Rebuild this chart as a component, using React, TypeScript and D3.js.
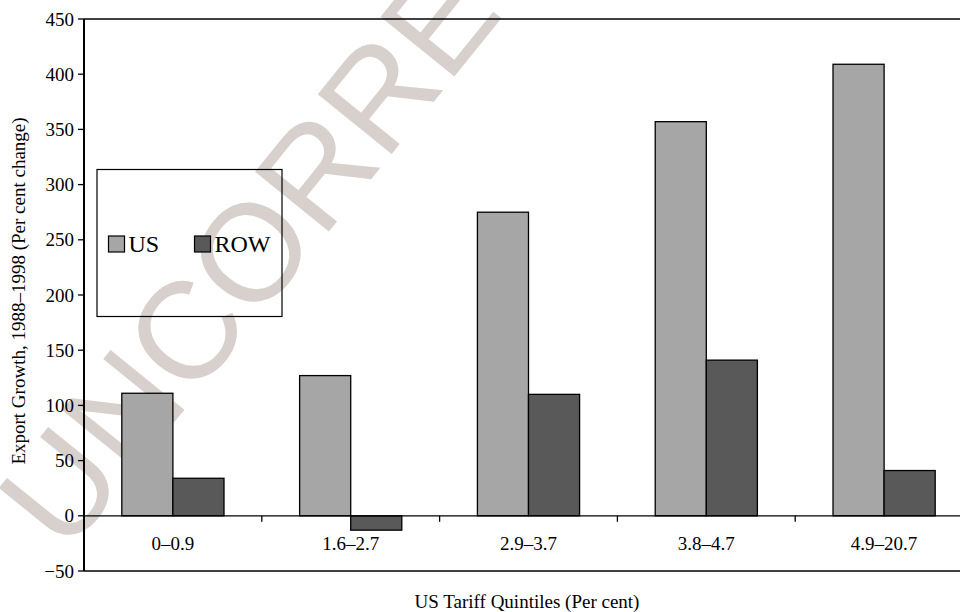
import React from "react";
import * as d3 from "d3";

const categories = ["0–0.9", "1.6–2.7", "2.9–3.7", "3.8–4.7", "4.9–20.7"];
const seriesNames = ["US", "ROW"];
const usValues = [111, 127, 275, 357, 409];
const rowValues = [34, -13, 110, 141, 41];
const yTicks = [-50, 0, 50, 100, 150, 200, 250, 300, 350, 400, 450];

const colors: Record<string, string> = { US: "#a6a6a6", ROW: "#595959" };
const FONT = "'Liberation Serif', 'Times New Roman', serif";

export default function App() {
  const width = 960;
  const height = 612;
  const left = 84;
  const right = 973;
  const top = 19;
  const bottom = 571;

  const x = d3.scaleBand<string>().domain(categories).range([left, right]).padding(0);
  const sub = d3
    .scaleBand<string>()
    .domain(seriesNames)
    .range([0, x.step()])
    .paddingInner(0)
    .paddingOuter(0.74);
  const y = d3.scaleLinear().domain([-50, 450]).range([bottom, top]);

  const rows = categories.map((c, i) => ({ c, US: usValues[i], ROW: rowValues[i] }));

  return (
    <svg
      width={width}
      height={height}
      style={{ position: "absolute", left: 0, top: 0, background: "#fff" }}
    >
      {/* watermark */}
      <text
        transform="translate(66,556) rotate(-51)"
        fontFamily="'Liberation Sans', Arial, sans-serif"
        fontSize={138}
        fill="#d8d0cd"
      >
        UNCORRECTED
      </text>

      {/* plot frame lines */}
      <line x1={left} x2={width} y1={top} y2={top} stroke="#000" strokeWidth={1.5} />
      <line x1={left} x2={width} y1={bottom} y2={bottom} stroke="#000" strokeWidth={1.5} />

      {/* bars */}
      {rows.map((r) =>
        seriesNames.map((s) => {
          const v = (r as any)[s] as number;
          const x0 = (x(r.c) ?? 0) + (sub(s) ?? 0);
          const y0 = y(Math.max(0, v));
          const h = Math.abs(y(v) - y(0));
          return (
            <rect
              key={r.c + s}
              x={x0}
              y={y0}
              width={sub.bandwidth()}
              height={h}
              fill={colors[s]}
              stroke="#000"
              strokeWidth={1.3}
            />
          );
        })
      )}

      {/* zero line with category ticks */}
      <line x1={left} x2={width} y1={y(0)} y2={y(0)} stroke="#000" strokeWidth={1.3} />
      {categories.slice(1).map((c) => (
        <line
          key={"t" + c}
          x1={x(c)}
          x2={x(c)}
          y1={y(0)}
          y2={y(0) + 6}
          stroke="#000"
          strokeWidth={1.3}
        />
      ))}
      {categories.map((c) => (
        <text
          key={"l" + c}
          x={(x(c) ?? 0) + x.bandwidth() / 2}
          y={550}
          textAnchor="middle"
          fontFamily={FONT}
          fontSize={19}
          fill="#000"
        >
          {c}
        </text>
      ))}

      {/* y axis */}
      <line x1={left} x2={left} y1={top} y2={bottom} stroke="#000" strokeWidth={2} />
      {yTicks.map((t) => (
        <g key={"y" + t}>
          <line x1={left - 6} x2={left} y1={y(t)} y2={y(t)} stroke="#000" strokeWidth={1.3} />
          <text
            x={left - 10}
            y={y(t)}
            dy="0.35em"
            textAnchor="end"
            fontFamily={FONT}
            fontSize={19}
            fill="#000"
          >
            {t < 0 ? "−" + Math.abs(t) : t}
          </text>
        </g>
      ))}

      {/* axis titles */}
      <text
        transform="translate(25,291) rotate(-90)"
        textAnchor="middle"
        fontFamily={FONT}
        fontSize={19}
        fill="#000"
      >
        Export Growth, 1988–1998 (Per cent change)
      </text>
      <text
        x={527}
        y={608}
        textAnchor="middle"
        fontFamily={FONT}
        fontSize={19}
        fill="#000"
      >
        US Tariff Quintiles (Per cent)
      </text>

      {/* legend */}
      <rect x={97} y={169.5} width={185} height={147} fill="none" stroke="#000" strokeWidth={1.2} />
      {seriesNames.map((s, i) => {
        const lx = i === 0 ? 108.5 : 194.5;
        return (
          <g key={"lg" + s}>
            <rect x={lx} y={236} width={16} height={16} fill={colors[s]} stroke="#000" strokeWidth={1.2} />
            <text x={lx + 20} y={252} fontFamily={FONT} fontSize={24} fill="#000">
              {s}
            </text>
          </g>
        );
      })}
    </svg>
  );
}
